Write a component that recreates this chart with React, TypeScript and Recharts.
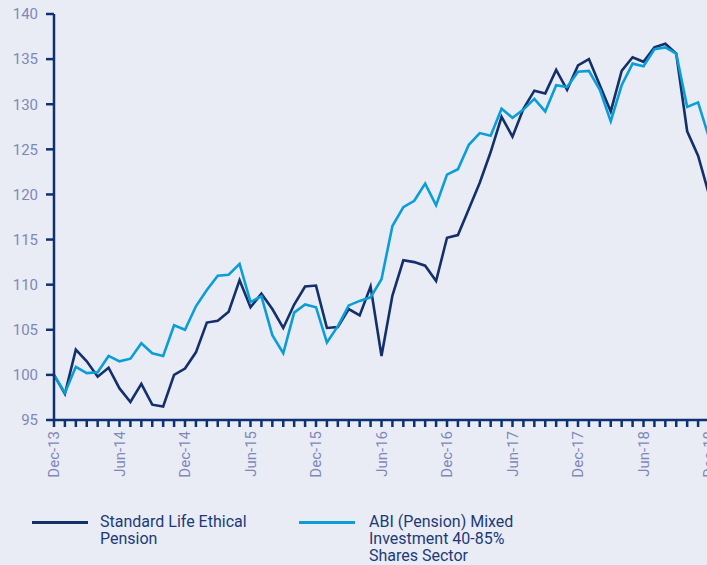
import { LineChart, Line, XAxis, YAxis } from "recharts";

// monthly index values, Dec-13 = 100
const months = [
  "Dec-13", "Jan-14", "Feb-14", "Mar-14", "Apr-14", "May-14", "Jun-14", "Jul-14", "Aug-14", "Sep-14", "Oct-14", "Nov-14",
  "Dec-14", "Jan-15", "Feb-15", "Mar-15", "Apr-15", "May-15", "Jun-15", "Jul-15", "Aug-15", "Sep-15", "Oct-15", "Nov-15",
  "Dec-15", "Jan-16", "Feb-16", "Mar-16", "Apr-16", "May-16", "Jun-16", "Jul-16", "Aug-16", "Sep-16", "Oct-16", "Nov-16",
  "Dec-16", "Jan-17", "Feb-17", "Mar-17", "Apr-17", "May-17", "Jun-17", "Jul-17", "Aug-17", "Sep-17", "Oct-17", "Nov-17",
  "Dec-17", "Jan-18", "Feb-18", "Mar-18", "Apr-18", "May-18", "Jun-18", "Jul-18", "Aug-18", "Sep-18", "Oct-18", "Nov-18",
  "Dec-18",
];

const ethical = [
  100.0, 97.9, 102.8, 101.5, 99.8, 100.8, 98.5, 97.0, 99.0, 96.7, 96.5, 100.0,
  100.7, 102.5, 105.8, 106.0, 107.0, 110.5, 107.5, 109.0, 107.3, 105.2, 107.8, 109.8,
  109.9, 105.2, 105.3, 107.3, 106.6, 109.8, 102.1, 108.8, 112.7, 112.5, 112.1, 110.4,
  115.2, 115.5, 118.4, 121.3, 124.7, 128.6, 126.4, 129.5, 131.5, 131.2, 133.8, 131.6,
  134.3, 135.0, 132.1, 129.2, 133.7, 135.2, 134.7, 136.3, 136.7, 135.6, 127.0, 124.3,
  120.0,
];

const sector = [
  100.0, 98.0, 100.9, 100.2, 100.3, 102.1, 101.5, 101.8, 103.5, 102.4, 102.1, 105.5,
  105.0, 107.6, 109.4, 111.0, 111.1, 112.3, 108.1, 108.7, 104.4, 102.4, 106.9, 107.8,
  107.5, 103.6, 105.4, 107.7, 108.2, 108.6, 110.6, 116.5, 118.6, 119.3, 121.2, 118.8,
  122.2, 122.8, 125.5, 126.8, 126.5, 129.5, 128.5, 129.4, 130.6, 129.2, 132.1, 131.9,
  133.6, 133.7, 131.6, 128.1, 132.1, 134.5, 134.2, 136.1, 136.3, 135.6, 129.7, 130.2,
  126.3,
];

const xLabels = ["Dec-13", "Jun-14", "Dec-14", "Jun-15", "Dec-15", "Jun-16", "Dec-16", "Jun-17", "Dec-17", "Jun-18", "Dec-18"];
const yTicks = [95, 100, 105, 110, 115, 120, 125, 130, 135, 140];

const data = months.map((m, i) => ({ month: m, ethical: ethical[i], sector: sector[i] }));

const BG = "#e9ecf5";
const NAVY = "#13306b";
const CYAN = "#0a9ed8";
const AXIS = "#0d3272";
const LABEL = "#7f87b8";
const FONT = "Roboto, 'Noto Sans', sans-serif";

const XTick = ({ x, y, payload }: any) => {
  if (!xLabels.includes(payload.value)) return null;
  return (
    <text
      x={x}
      y={y}
      dy="0.36em"
      transform={`rotate(-90, ${x}, ${y})`}
      textAnchor="end"
      fill={LABEL}
      fontSize={15}
      fontFamily={FONT}
    >
      {payload.value}
    </text>
  );
};

export default function App() {
  return (
    <div
      style={{
        position: "absolute",
        left: 0,
        top: 0,
        width: 707,
        height: 565,
        overflow: "hidden",
        background: BG,
      }}
    >
      <LineChart width={720} height={565} data={data} margin={{ top: 14, right: 11, left: 0, bottom: 85 }}>
        <XAxis
          dataKey="month"
          interval={0}
          tick={<XTick />}
          tickSize={7}
          tickMargin={4}
          height={60}
          axisLine={{ stroke: AXIS, strokeWidth: 2.5 }}
          tickLine={{ stroke: AXIS, strokeWidth: 2.5 }}
        />
        <YAxis
          domain={[95, 140]}
          ticks={yTicks}
          interval={0}
          width={54}
          tickSize={8}
          tickMargin={8}
          axisLine={{ stroke: AXIS, strokeWidth: 2.5 }}
          tickLine={{ stroke: AXIS, strokeWidth: 2.5 }}
          tick={{ fill: LABEL, fontSize: 15, fontFamily: FONT }}
        />
        <Line type="linear" dataKey="ethical" stroke={NAVY} strokeWidth={2.6} dot={false} isAnimationActive={false} />
        <Line type="linear" dataKey="sector" stroke={CYAN} strokeWidth={2.6} dot={false} isAnimationActive={false} />
      </LineChart>

      {/* legend */}
      <div style={{ position: "absolute", left: 32, top: 521, width: 56, height: 3, background: NAVY }} />
      <div
        style={{
          position: "absolute",
          left: 100,
          top: 513,
          fontFamily: FONT,
          fontSize: 16,
          lineHeight: "17px",
          color: "#1d3a78",
        }}
      >
        Standard Life Ethical
        <br />
        Pension
      </div>
      <div style={{ position: "absolute", left: 299, top: 521, width: 56, height: 3, background: CYAN }} />
      <div
        style={{
          position: "absolute",
          left: 369,
          top: 513,
          fontFamily: FONT,
          fontSize: 16,
          lineHeight: "17px",
          color: "#1d3a78",
        }}
      >
        ABI (Pension) Mixed
        <br />
        Investment 40-85%
        <br />
        Shares Sector
      </div>
    </div>
  );
}
